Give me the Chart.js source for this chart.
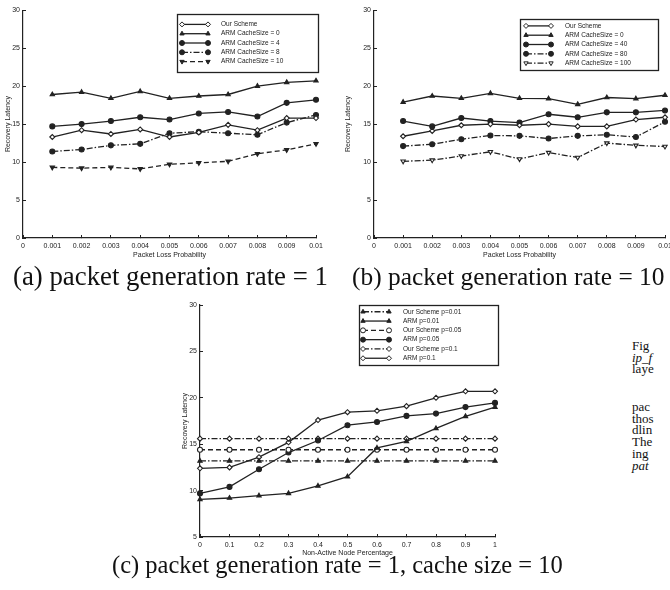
<!DOCTYPE html>
<html>
<head>
<meta charset="utf-8">
<script src="https://cdn.jsdelivr.net/npm/chart.js"></script>
<style>
  body { margin: 0; width: 670px; height: 590px; overflow: hidden; background: #fff; position: relative; }
  canvas { position: absolute; }
  .cap { position: absolute; font-family: "Liberation Serif", "Times New Roman", serif; color: #111; white-space: nowrap; line-height: 1; }
  .side { position: absolute; left: 632px; font: 13px "Liberation Serif", "Times New Roman", serif; line-height: 11.7px; color: #111; white-space: nowrap; }
</style>
</head>
<body>
<canvas id="chartA" width="335" height="262" style="left:0;top:0"></canvas>
<canvas id="chartB" width="350" height="262" style="left:335px;top:0"></canvas>
<canvas id="chartC" width="335" height="270" style="left:170px;top:290px"></canvas>

<div class="cap" style="left:13px;top:262.5px;font-size:26.8px">(a) packet generation rate = 1</div>
<div class="cap" style="left:352px;top:263.5px;font-size:25.4px">(b) packet generation rate = 10</div>
<div class="cap" style="left:112px;top:552.5px;font-size:24.5px">(c) packet generation rate = 1, cache size = 10</div>

<div class="side" style="top:340px">Fig<br><i>ip_f</i><br>laye</div>
<div class="side" style="top:401px">pac<br>thos<br>dlin<br>The<br>ing<br><i>pat</i></div>

<script>
// (a) and (b): x = packet loss probability
const lossProb = [0.001, 0.002, 0.003, 0.004, 0.005, 0.006, 0.007, 0.008, 0.009, 0.01];

const aOurScheme = [13.3, 14.2, 13.7, 14.3, 13.3, 13.9, 14.9, 14.2, 15.8, 15.8];
const aArm0      = [18.9, 19.2, 18.4, 19.3, 18.4, 18.7, 18.9, 20.0, 20.5, 20.7];
const aArm4      = [14.7, 15.0, 15.4, 15.9, 15.6, 16.4, 16.6, 16.0, 17.8, 18.2];
const aArm8      = [11.4, 11.65, 12.2, 12.4, 13.8, 14.0, 13.8, 13.6, 15.2, 16.2];
const aArm10     = [9.3, 9.2, 9.3, 9.1, 9.7, 9.9, 10.1, 11.1, 11.6, 12.4];

const bOurScheme = [13.4, 14.1, 14.85, 15.0, 14.85, 15.0, 14.7, 14.7, 15.6, 15.9];
const bArm0      = [17.9, 18.7, 18.4, 19.05, 18.4, 18.35, 17.6, 18.5, 18.35, 18.8];
const bArm40     = [15.4, 14.7, 15.8, 15.4, 15.2, 16.3, 15.9, 16.55, 16.55, 16.8];
const bArm80     = [12.1, 12.35, 13.0, 13.5, 13.45, 13.1, 13.45, 13.6, 13.3, 15.3];
const bArm100    = [10.1, 10.25, 10.8, 11.35, 10.4, 11.25, 10.6, 12.5, 12.2, 12.05];

// (c): x = non-active node percentage
const nonActive = [0, 0.1, 0.2, 0.3, 0.4, 0.5, 0.6, 0.7, 0.8, 0.9, 1];
const cOur001 = [13.2, 13.2, 13.2, 13.2, 13.2, 13.2, 13.2, 13.2, 13.2, 13.2, 13.2];
const cArm001 = [9.05, 9.2, 9.45, 9.7, 10.5, 11.5, 14.6, 15.3, 16.7, 18.0, 19.0];
const cOur005 = [14.4, 14.4, 14.4, 14.4, 14.4, 14.4, 14.4, 14.4, 14.4, 14.4, 14.4];
const cArm005 = [9.7, 10.4, 12.3, 14.1, 15.4, 17.05, 17.4, 18.05, 18.3, 19.0, 19.45];
const cOur01  = [15.6, 15.6, 15.6, 15.6, 15.6, 15.6, 15.6, 15.6, 15.6, 15.6, 15.6];
const cArm01  = [12.4, 12.5, 13.6, 15.2, 17.6, 18.45, 18.6, 19.1, 20.0, 20.7, 20.7];

const INK = '#222';
const DASHDOT = [6, 2, 1.5, 2];
const DASHED = [5, 3];

function ds(label, xs, ys, pointStyle, dash, filled, rot) {
  return {
    label: label,
    data: xs.map((x, i) => ({ x: x, y: ys[i] })),
    borderColor: INK,
    borderWidth: 1.3,
    borderDash: dash,
    pointStyle: pointStyle,
    pointRotation: rot || 0,
    pointRadius: 2.5,
    pointBorderWidth: 1.1,
    pointBorderColor: INK,
    pointBackgroundColor: filled ? INK : '#fff',
    tension: 0,
    fill: false,
    clip: false
  };
}

// legend drawn as a framed box inside the plot, like the original
const boxLegend = {
  id: 'boxLegend',
  afterDraw(chart, args, opts) {
    const ctx = chart.ctx;
    const sets = chart.data.datasets;
    const n = sets.length;
    ctx.save();
    ctx.fillStyle = '#fff';
    ctx.fillRect(opts.x, opts.y, opts.w, opts.h);
    ctx.strokeStyle = INK;
    ctx.lineWidth = 1.3;
    ctx.strokeRect(opts.x + 0.5, opts.y + 0.5, opts.w, opts.h);
    sets.forEach((d, i) => {
      const cy = opts.y + opts.h / 2 + (i - (n - 1) / 2) * 9.3;
      const x1 = opts.x + opts.sx1, x2 = opts.x + opts.sx2;
      ctx.setLineDash(d.borderDash || []);
      ctx.lineWidth = d.borderWidth;
      ctx.strokeStyle = d.borderColor;
      ctx.beginPath();
      ctx.moveTo(x1, cy);
      ctx.lineTo(x2, cy);
      ctx.stroke();
      ctx.setLineDash([]);
      ctx.lineWidth = 1;
      ctx.fillStyle = d.pointBackgroundColor;
      [x1, x2].forEach(px => Chart.helpers.drawPoint(ctx, {
        pointStyle: d.pointStyle, radius: d.pointRadius, rotation: d.pointRotation, borderWidth: 1
      }, px, cy));
      ctx.fillStyle = INK;
      ctx.font = '6.5px Arial';
      ctx.textBaseline = 'middle';
      ctx.textAlign = 'left';
      ctx.fillText(d.label, opts.x + opts.tx, cy);
    });
    ctx.restore();
  }
};

function scales(o) {
  const tickFont = { size: 7, family: 'Arial' };
  return {
    x: {
      type: 'linear', min: o.xmin, max: o.xmax,
      ticks: { stepSize: o.xstep, callback: o.fmt, font: tickFont, color: INK, padding: 7, maxRotation: 0, autoSkip: false },
      grid: { drawOnChartArea: false, tickLength: -3, color: INK },
      border: { color: INK, width: 1.2 },
      title: { display: true, text: o.xTitle, font: tickFont, color: INK, padding: { top: 0, bottom: 3 } },
      afterFit: s => { s.height = o.xh; }
    },
    y: {
      min: o.ymin, max: o.ymax,
      ticks: { stepSize: 5, font: tickFont, color: INK, padding: 6 },
      grid: { drawOnChartArea: false, tickLength: -3, color: INK },
      border: { color: INK, width: 1.2 },
      title: { display: true, text: 'Recovery Latency', font: tickFont, color: INK, padding: { top: o.yPad, bottom: 0 } },
      afterFit: s => { s.width = o.yw; }
    }
  };
}

function build(id, datasets, sc, pad, legend) {
  return new Chart(document.getElementById(id), {
    type: 'line',
    data: { datasets: datasets },
    options: {
      responsive: false,
      animation: false,
      devicePixelRatio: 1,
      layout: { padding: pad },
      scales: sc,
      plugins: { legend: { display: false }, tooltip: { enabled: false }, boxLegend: legend }
    },
    plugins: [boxLegend]
  });
}

const fmt3 = v => (v === 0 ? '0' : String(+v.toFixed(3)));
const fmt1 = v => String(+v.toFixed(1));

build('chartA', [
  ds('Our Scheme', lossProb, aOurScheme, 'rectRot', [], false),
  ds('ARM CacheSize = 0', lossProb, aArm0, 'triangle', [], true),
  ds('ARM CacheSize = 4', lossProb, aArm4, 'circle', [], true),
  ds('ARM CacheSize = 8', lossProb, aArm8, 'circle', DASHDOT, true),
  ds('ARM CacheSize = 10', lossProb, aArm10, 'triangle', DASHED, true, 180)
], scales({ xmin: 0, xmax: 0.01, xstep: 0.001, fmt: fmt3, xTitle: 'Packet Loss Probability',
            ymin: 0, ymax: 30, xh: 24, yw: 23, yPad: 4 }),
  { top: 10, right: 19, left: 0, bottom: 0 },
  { x: 177, y: 14, w: 141, h: 58, sx1: 5, sx2: 31, tx: 44 });

build('chartB', [
  ds('Our Scheme', lossProb, bOurScheme, 'rectRot', [], false),
  ds('ARM CacheSize = 0', lossProb, bArm0, 'triangle', [], true),
  ds('ARM CacheSize = 40', lossProb, bArm40, 'circle', [], true),
  ds('ARM CacheSize = 80', lossProb, bArm80, 'circle', DASHDOT, true),
  ds('ARM CacheSize = 100', lossProb, bArm100, 'triangle', DASHDOT, false, 180)
], scales({ xmin: 0, xmax: 0.01, xstep: 0.001, fmt: fmt3, xTitle: 'Packet Loss Probability',
            ymin: 0, ymax: 30, xh: 24, yw: 39, yPad: 9 }),
  { top: 10, right: 20, left: 0, bottom: 0 },
  { x: 185, y: 19, w: 138, h: 51, sx1: 6, sx2: 31, tx: 45 });

build('chartC', [
  ds('Our Scheme p=0.01', nonActive, cOur001, 'triangle', DASHDOT, true),
  ds('ARM p=0.01', nonActive, cArm001, 'triangle', [], true),
  ds('Our Scheme p=0.05', nonActive, cOur005, 'circle', DASHED, false),
  ds('ARM p=0.05', nonActive, cArm005, 'circle', [], true),
  ds('Our Scheme p=0.1', nonActive, cOur01, 'rectRot', DASHDOT, false),
  ds('ARM p=0.1', nonActive, cArm01, 'rectRot', [], false)
], scales({ xmin: 0, xmax: 1, xstep: 0.1, fmt: fmt1, xTitle: 'Non-Active Node Percentage',
            ymin: 5, ymax: 30, xh: 23, yw: 30, yPad: 11 }),
  { top: 15, right: 10, left: 0, bottom: 0 },
  { x: 189, y: 15, w: 139, h: 60, sx1: 4, sx2: 30, tx: 44 });
</script>
</body>
</html>
